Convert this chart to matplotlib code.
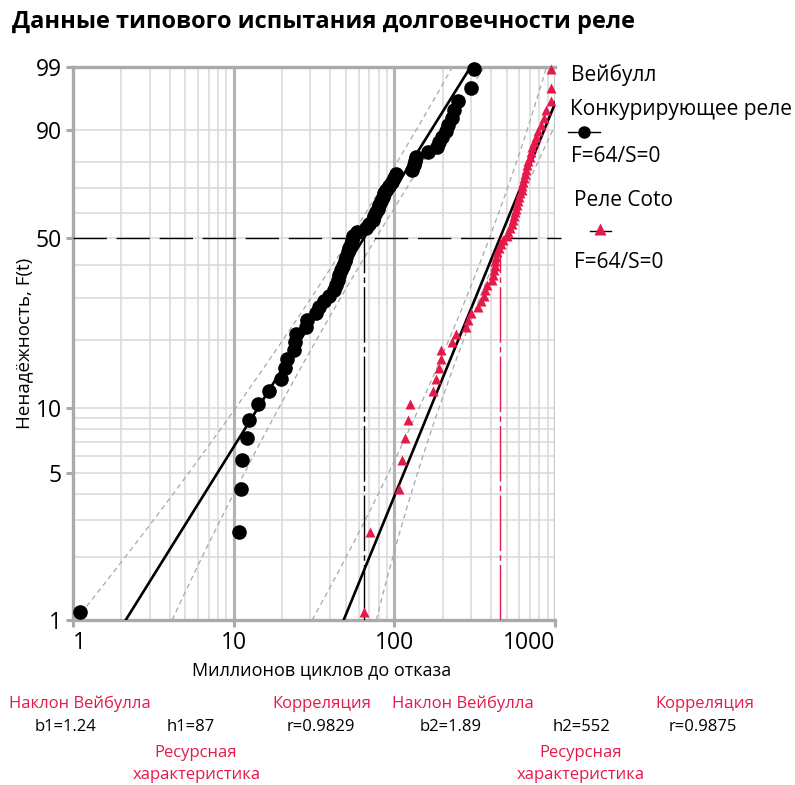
import numpy as np
import matplotlib
matplotlib.use("Agg")
import matplotlib.pyplot as plt
from matplotlib.lines import Line2D
import matplotlib.transforms as mtransforms

plt.rcParams['font.family'] = ['Open Sans', 'DejaVu Sans']

# ---------------- data ----------------
# failure times (millions of cycles), sorted, 64 failures each, no suspensions
competitor = [1.1, 10.8, 11.1, 11.2, 12.1, 12.5, 14.2, 16.5, 19.7, 20.8,
              21.6, 23.8, 24.2, 24.6, 28.2, 28.6, 32.7, 34.1, 36.6, 39.4,
              42.3, 43.5, 44.5, 45.4, 46.7, 48.1, 49.2, 50.2, 51.3, 52.5,
              53.6, 54.4, 55.5, 58.8, 66.6, 69.9, 73.3, 75.0, 76.7, 78.7,
              80.7, 83.0, 84.6, 86.7, 88.8, 93.1, 97.2, 100, 103, 129,
              133, 135, 137, 161, 185, 191, 199, 210, 215, 228,
              234, 248, 301, 315]
coto = [65, 71, 107, 111, 117, 122, 125, 173, 182, 191,
        194, 196, 228, 243, 278, 288, 298, 334, 347, 360,
        369, 380, 408, 414, 420, 423, 426, 432, 438, 451,
        464, 478, 506, 513, 526, 538, 551, 559, 567, 572,
        579, 589, 597, 609, 619, 626, 634, 642, 651, 662,
        674, 683, 694, 711, 721, 737, 757, 782, 820, 856,
        880, 938, 944, 951]

b1, h1, r1 = 1.24, 87, 0.9829
b2, h2, r2 = 1.89, 552, 0.9875

# confidence-band anchor points: (unreliability %, time)
band_F = [1, 50, 99]
band_lo1 = [1.04, 53, 230]
band_hi1 = [4.14, 77, 364]
band_F2hi = [1, 50, 91]
band_lo2 = [30.8, 391, 885]
band_hi2 = [77.3, 484, 1000]

x_ticks = [1, 10, 100, 1000]
y_ticks = [1, 5, 10, 50, 90, 99]
y_minor = [1, 2, 3, 4, 5, 6, 7, 8, 9, 10, 20, 30, 40, 50, 60, 70, 80, 90, 99]

RED = '#e5194a'
GRID = '#d9d9d9'
DARKGRID = '#b3b3b3'

# ---------------- helpers ----------------
def fwd(p):
    p = np.clip(np.asarray(p, dtype=float), 1e-9, 100 - 1e-9)
    return np.log(-np.log(1 - p / 100.0))

def inv(w):
    return 100.0 * (1 - np.exp(-np.exp(np.asarray(w, dtype=float))))

def median_ranks(n):
    i = np.arange(1, n + 1)
    return 100.0 * (i - 0.3) / (n + 0.4)

def weib_q(p, b, h):
    return h * (-np.log(1 - np.asarray(p) / 100.0)) ** (1.0 / b)

def band_curve(Fs, xs, Fmax=99):
    w = fwd(Fs)
    lx = np.log10(xs)
    c = np.polyfit(w, lx, 2)
    ww = np.linspace(fwd(1), fwd(Fmax), 200)
    return 10 ** np.polyval(c, ww), inv(ww)

# ---------------- figure ----------------
fig = plt.figure(figsize=(7.95, 7.85), dpi=100)
ax = fig.add_axes([73 / 795, 1 - 620 / 785, (555 - 73) / 795, (620 - 67) / 785])
ax.set_xscale('log')
ax.set_yscale('function', functions=(fwd, inv))
ax.set_xlim(1, 1000)
ax.set_ylim(1, 99)

# grid
xminor = [k * 10 ** d for d in range(0, 3) for k in range(2, 10)]
for xv in xminor:
    ax.axvline(xv, color=GRID, lw=1.1, zorder=0)
for xv in [10, 100]:
    ax.axvline(xv, color=DARKGRID, lw=2.2, zorder=0.5)
ax.axvline(1000, color='#c8c8c8', lw=1.6, zorder=0.5)
for yv in y_minor:
    ax.axhline(yv, color=GRID, lw=1.1, zorder=0)

for s in ['left', 'bottom', 'top']:
    ax.spines[s].set_color('#aaaaaa')
    ax.spines[s].set_linewidth(2.4)
ax.spines['right'].set_visible(False)

ax.set_xticks(x_ticks)
ax.set_xticklabels([str(v) for v in x_ticks])
ax.xaxis.set_minor_locator(matplotlib.ticker.NullLocator())
ax.set_yticks(y_ticks)
ax.set_yticklabels([str(v) for v in y_ticks])
ax.yaxis.set_minor_locator(matplotlib.ticker.NullLocator())
ax.tick_params(axis='both', which='major', length=5, width=2.2, color='#aaaaaa',
               labelsize=16.5, pad=3)
xl = ax.get_xticklabels()
xl[0].set_ha('left')
xl[-1].set_ha('right')

# confidence bands
for Fs, xs, Fm in [(band_F, band_lo1, 99), (band_F, band_hi1, 99),
                   (band_F, band_lo2, 99), (band_F2hi, band_hi2, 99)]:
    bx, bF = band_curve(Fs, xs, Fm)
    ax.plot(bx, bF, color='#a8a8a8', lw=0.9, ls=(0, (4, 3)), zorder=2)

# fit lines
F_line = np.linspace(1, 99, 300)
ax.plot(weib_q(F_line, b1, h1), F_line, color='black', lw=1.9, zorder=3)
ax.plot(weib_q(F_line, b2, h2), F_line, color='black', lw=1.9, zorder=3)

# 50% reference line and medians
trans = mtransforms.blended_transform_factory(ax.transAxes, ax.transData)
ax.plot([0, 1.012], [50, 50], transform=trans, color='black', lw=1.0,
        ls=(0, (24, 7)), clip_on=False, zorder=3)
m1 = weib_q(50, b1, h1)
m2 = weib_q(50, b2, h2)
ax.plot([m1, m1], [1, 50], color='black', lw=1.0, ls=(0, (40, 3, 4, 3)), zorder=3)
ax.plot([m2, m2], [1, 50], color=RED, lw=1.0, ls=(0, (40, 3, 4, 3)), zorder=3)

# data points
ax.plot(competitor, median_ranks(len(competitor)), 'o', color='black',
        ms=9.5, zorder=4, clip_on=False)
ax.plot(coto, median_ranks(len(coto)), '^', color=RED, ms=6.5, mec='none',
        zorder=4, clip_on=False)

ax.set_xlabel('Миллионов циклов до отказа', fontsize=13, labelpad=2)
ax.set_ylabel('Ненадёжность, F(t)', fontsize=13.5, labelpad=2)
ax.xaxis.set_label_coords(0.515, -0.075)

# title
fig.text(12 / 795, 1 - 22 / 785, 'Данные типового испытания долговечности реле',
         fontsize=17, fontweight='bold', ha='left', va='center')

# legend (manual)
def fx(px):
    return px / 795

def fy(py):
    return 1 - py / 785

LF = 15
fig.text(fx(571), fy(75), 'Вейбулл', fontsize=LF, ha='left', va='center')
fig.text(fx(570), fy(110), 'Конкурирующее реле', fontsize=LF, ha='left', va='center')
fig.add_artist(Line2D([fx(568), fx(600)], [fy(132), fy(132)], color='black', lw=1.0))
fig.add_artist(Line2D([fx(584)], [fy(132)], color='black', marker='o', ms=8, lw=0))
fig.text(fx(571), fy(157), 'F=64/S=0', fontsize=LF, ha='left', va='center')
fig.text(fx(574), fy(200), 'Реле Coto', fontsize=LF, ha='left', va='center')
fig.add_artist(Line2D([fx(590), fx(611)], [fy(231), fy(231)], color='black', lw=1.0))
fig.add_artist(Line2D([fx(600)], [fy(229)], color=RED, marker='^', ms=8, lw=0, mec='none'))
fig.text(fx(574), fy(263), 'F=64/S=0', fontsize=LF, ha='left', va='center')

# bottom parameter annotations
def ann(xc, yc, s, color='black'):
    fig.text(fx(xc), fy(yc), s, fontsize=12, ha='center', va='center', color=color)

ann(80, 704, 'Наклон Вейбулла', RED)
ann(66, 727, f'b1={b1}')
ann(191, 727, f'h1={h1}')
ann(196, 753, 'Ресурсная', RED)
ann(197, 775, 'характеристика', RED)
ann(322, 704, 'Корреляция', RED)
ann(321, 727, f'r={r1}')
ann(463, 704, 'Наклон Вейбулла', RED)
ann(451, 727, f'b2={b2}')
ann(582, 727, f'h2={h2}')
ann(581, 753, 'Ресурсная', RED)
ann(581, 775, 'характеристика', RED)
ann(705, 704, 'Корреляция', RED)
ann(703, 727, f'r={r2}')

fig.savefig('out.png', dpi=100)
